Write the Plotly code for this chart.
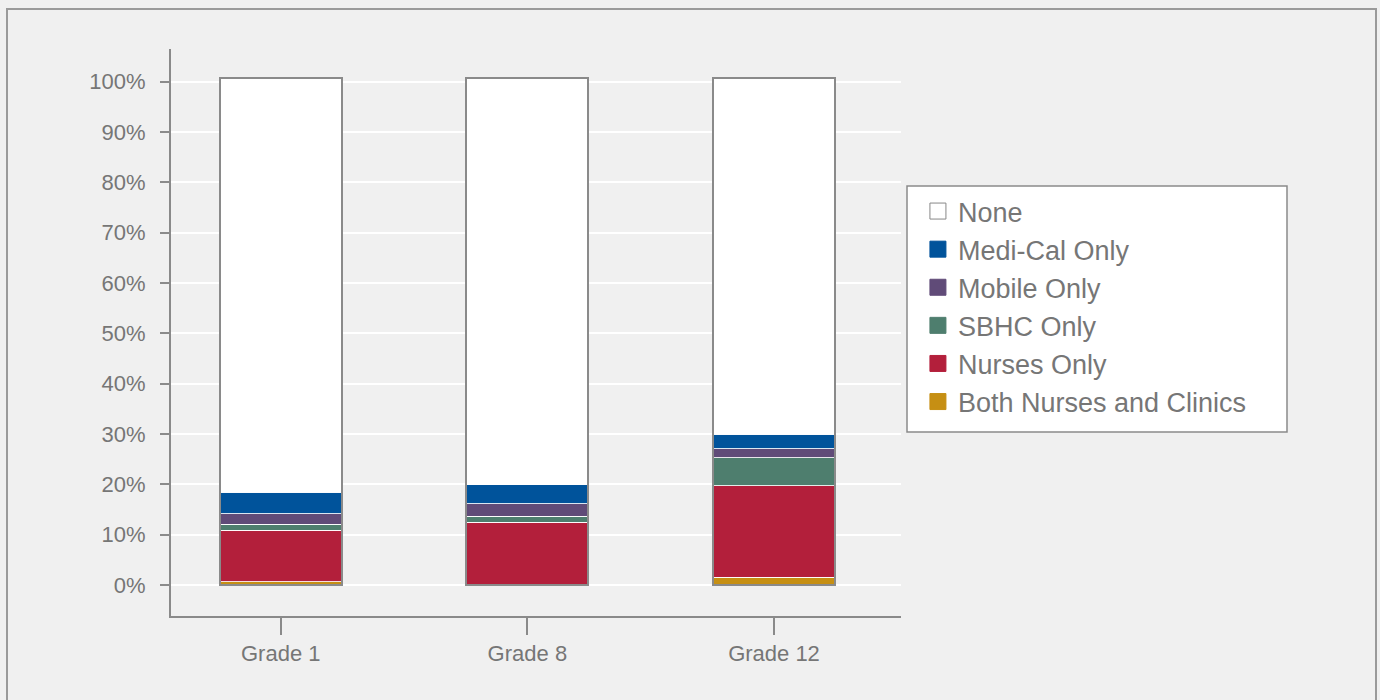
import plotly.graph_objects as go

categories = ["Grade 1", "Grade 8", "Grade 12"]
series_names = ["Both Nurses and Clinics", "Nurses Only", "SBHC Only", "Mobile Only", "Medi-Cal Only", "None"]
both_nurses_clinics = [0.6, 0.1, 1.5]
nurses_only = [10.2, 12.3, 18.2]
sbhc_only = [1.2, 1.2, 5.6]
mobile_only = [2.1, 2.5, 1.7]
medical_only = [4.3, 3.8, 2.9]
none_ = [82.4, 80.9, 70.9]
y_tick_vals = [0, 10, 20, 30, 40, 50, 60, 70, 80, 90, 100]
y_tick_text = ["0%", "10%", "20%", "30%", "40%", "50%", "60%", "70%", "80%", "90%", "100%"]

series_values = [both_nurses_clinics, nurses_only, sbhc_only, mobile_only, medical_only, none_]
colors = ["#c68f13", "#b31f3b", "#4e7e6e", "#604b78", "#00539b", "#ffffff"]

FONT = "Liberation Sans, Arial, sans-serif"
TXT = "#767676"
GRID_OUT = "#8a8a8a"
BAR_W = 0.495

fig = go.Figure()
for name, vals, col in zip(series_names, series_values, colors):
    fig.add_trace(go.Bar(
        x=categories, y=vals, name=name, width=BAR_W,
        marker=dict(color=col, line=dict(color="rgba(255,255,255,0.85)", width=1)),
        showlegend=False, hoverinfo="x+y+name",
    ))

totals = [sum(v[i] for v in series_values) for i in range(len(categories))]
fig.add_trace(go.Bar(
    x=categories, y=totals, width=BAR_W, xaxis="x2", showlegend=False,
    marker=dict(color="rgba(0,0,0,0)", line=dict(color=GRID_OUT, width=2)),
    hoverinfo="skip",
))

# legend entries (top to bottom: None ... Both)
for name, col in zip(series_names[::-1], colors[::-1]):
    fig.add_trace(go.Scatter(
        x=[None], y=[None], mode="markers", name=name,
        marker=dict(symbol="square", size=18, color=col,
                    line=dict(color="#888888" if col == "#ffffff" else col, width=1)),
    ))

xr = [-0.445, 2.515]
fig.update_layout(
    barmode="stack",
    width=1380, height=700,
    margin=dict(l=171, r=479, t=49, b=84),
    paper_bgcolor="#f0f0f0", plot_bgcolor="#f0f0f0",
    font=dict(family=FONT, color=TXT, size=22),
    xaxis=dict(type="category", categoryarray=categories, range=xr,
               showline=True, linecolor=GRID_OUT, linewidth=2,
               ticks="outside", ticklen=17, tickcolor=GRID_OUT, tickwidth=1.5,
               showgrid=False, tickfont=dict(size=22, color=TXT)),
    xaxis2=dict(type="category", categoryarray=categories, range=xr,
                overlaying="x", visible=False),
    yaxis=dict(range=[-6.2, 106.5], tickvals=y_tick_vals, ticktext=y_tick_text,
               showline=True, linecolor=GRID_OUT, linewidth=2,
               ticks="outside", ticklen=9, tickcolor=GRID_OUT, tickwidth=1.5,
               showgrid=True, gridcolor="#ffffff", gridwidth=1.5, zeroline=False,
               ticklabelstandoff=10, tickfont=dict(size=22, color=TXT)),
    legend=dict(x=1.0232, xanchor="left", y=0.7566, yanchor="top",
                bgcolor="rgba(0,0,0,0)", borderwidth=0,
                font=dict(size=27, color=TXT), traceorder="normal",
                itemsizing="trace", tracegroupgap=0),
    shapes=[
        dict(type="rect", xref="paper", yref="paper",
             x0=(907 - 171) / 730, x1=(1287 - 171) / 730,
             y0=(616 - 432) / 567, y1=(616 - 186) / 567,
             line=dict(color="#8a8a8a", width=1.5), fillcolor="#ffffff", layer="below"),
        dict(type="rect", xref="paper", yref="paper",
             x0=(7 - 171) / 730, x1=(1376 - 171) / 730,
             y0=-0.3, y1=(616 - 9) / 567,
             line=dict(color="#9a9a9a", width=2), fillcolor="rgba(0,0,0,0)", layer="below"),
    ],
)

fig.write_html("out.html")
